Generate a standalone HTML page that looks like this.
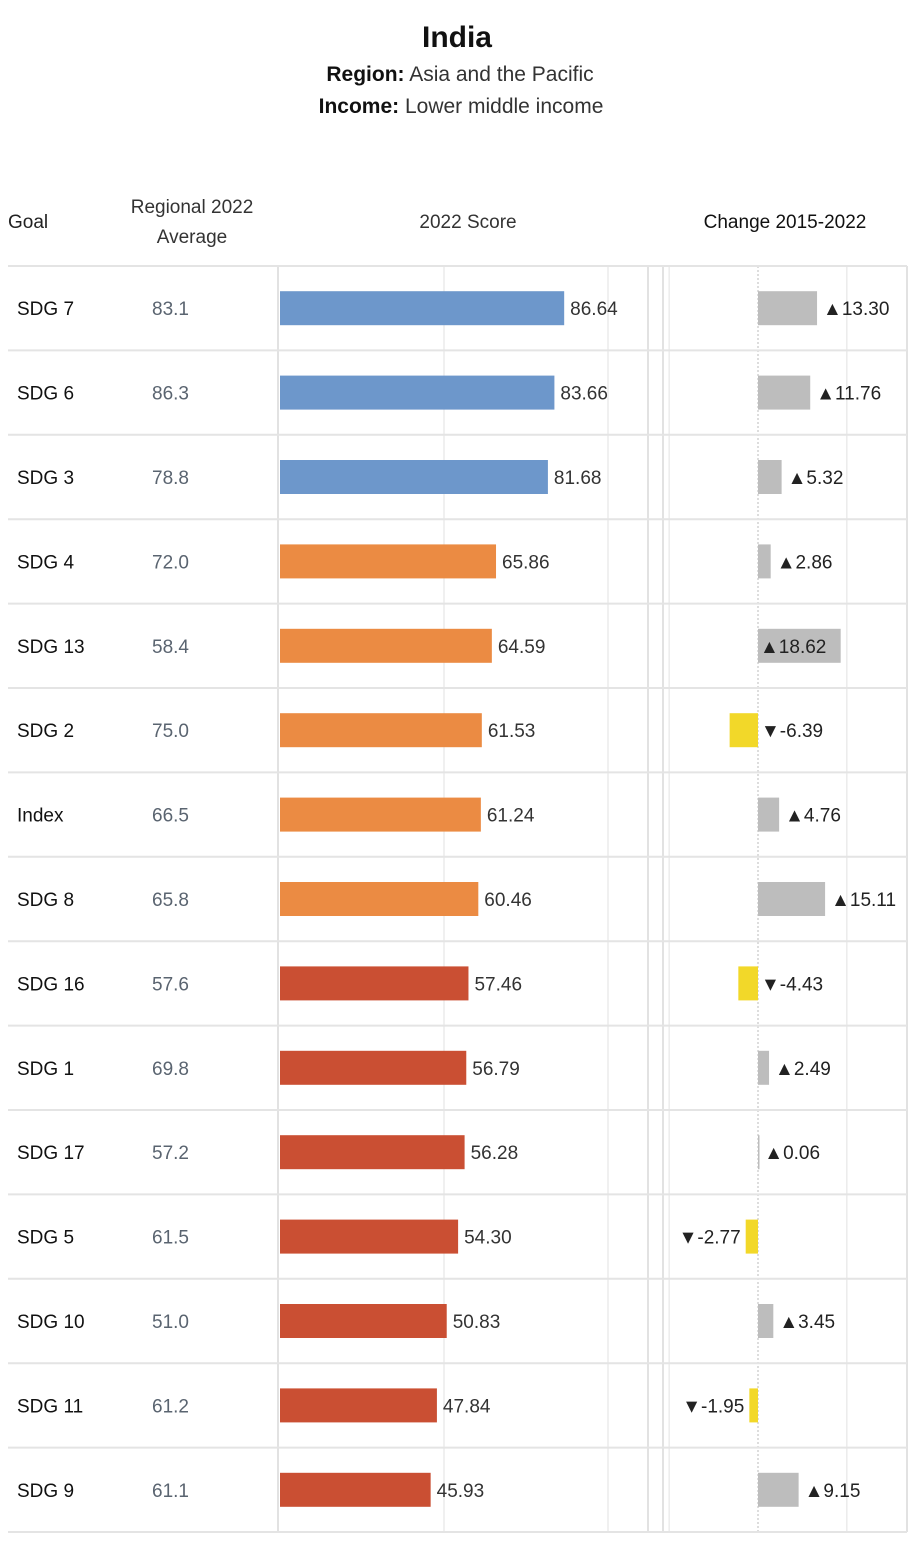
<!DOCTYPE html>
<html><head><meta charset="utf-8"><style>
body{margin:0;width:915px;height:1536px;background:#fff;font-family:"Liberation Sans",sans-serif;overflow:hidden}
svg text{font-family:"Liberation Sans",sans-serif}
</style></head><body>
<svg id="c" width="915" height="1536">
<text x="457" y="47" text-anchor="middle" font-size="30" font-weight="bold" fill="#111">India</text>
<text x="460" y="81" text-anchor="middle" font-size="21" fill="#333"><tspan font-weight="bold" fill="#111">Region:</tspan> Asia and the Pacific</text>
<text x="461" y="113" text-anchor="middle" font-size="21" fill="#333"><tspan font-weight="bold" fill="#111">Income:</tspan> Lower middle income</text>
<text x="8" y="228" font-size="19" fill="#222">Goal</text>
<text x="192" y="213" text-anchor="middle" font-size="19" fill="#333">Regional 2022</text>
<text x="192" y="243" text-anchor="middle" font-size="19" fill="#333">Average</text>
<text x="468" y="228" text-anchor="middle" font-size="19" fill="#333">2022 Score</text>
<text x="785" y="228" text-anchor="middle" font-size="19" fill="#111">Change 2015-2022</text>
<g id="g"></g>
</svg>
<script>
const goals=["SDG 7","SDG 6","SDG 3","SDG 4","SDG 13","SDG 2","Index","SDG 8","SDG 16","SDG 1","SDG 17","SDG 5","SDG 10","SDG 11","SDG 9"];
const regional=[83.1,86.3,78.8,72.0,58.4,75.0,66.5,65.8,57.6,69.8,57.2,61.5,51.0,61.2,61.1];
const scores=[86.64,83.66,81.68,65.86,64.59,61.53,61.24,60.46,57.46,56.79,56.28,54.30,50.83,47.84,45.93];
const changes=[13.30,11.76,5.32,2.86,18.62,-6.39,4.76,15.11,-4.43,2.49,0.06,-2.77,3.45,-1.95,9.15];
const scoreTicks=[0,50,100];
const changeTicks=[-20,0,20];
const NS="http://www.w3.org/2000/svg",g=document.getElementById('g');
const top0=266,rowH=84.4;
const xs=v=>280+v*3.28, xc=v=>758+v*4.44;
function el(t,a,txt){const e=document.createElementNS(NS,t);for(const k in a)e.setAttribute(k,a[k]);if(txt!=null)e.textContent=txt;g.appendChild(e);return e;}
const bot=top0+rowH*goals.length;
// panel borders
let e=el('line',{x1:278,x2:278,y1:top0,y2:bot,stroke:'#e2e2e2','stroke-width':2});

e=el('line',{x1:648,x2:648,y1:top0,y2:bot,stroke:'#e2e2e2','stroke-width':2});

e=el('line',{x1:663,x2:663,y1:top0,y2:bot,stroke:'#e2e2e2','stroke-width':2});

e=el('line',{x1:907,x2:907,y1:top0,y2:bot,stroke:'#e2e2e2','stroke-width':2});

scoreTicks.forEach(t=>{if(t===0)return;
 const l=el('line',{x1:xs(t),x2:xs(t),y1:top0,y2:bot,stroke:'#ececec','stroke-width':1.5});
 });
changeTicks.forEach(t=>{const x=xc(t);if(x<665)return;
 const l=el('line',{x1:x,x2:x,y1:top0,y2:bot,stroke:t===0?'#bbb':'#ececec','stroke-width':t===0?1:1.5,'stroke-dasharray':t===0?'2,2':'none'});
 });
for(let i=0;i<=goals.length;i++){const y=top0+i*rowH;
 const l=el('line',{x1:8,x2:907,y1:y,y2:y,stroke:'#e4e4e4','stroke-width':2});
 }
goals.forEach((gname,i)=>{
 const cy=top0+rowH*(i+0.5);
 let t=el('text',{x:17,y:cy+7,'font-size':19,fill:'#111'},gname);
 
 t=el('text',{x:152,y:cy+7,'font-size':19,fill:'#5a6470'},regional[i].toFixed(1));
 
 const s=scores[i],col=s>=80?'#6d97cb':s>=60?'#eb8b43':'#ca4f33';
 const b=el('rect',{x:280,y:cy-17,width:xs(s)-280,height:34,fill:col});
 
 t=el('text',{x:xs(s)+6,y:cy+7,'font-size':19,fill:'#333'},s.toFixed(2));
 
 const c=changes[i],x0=Math.min(xc(0),xc(c)),w=Math.max(Math.abs(xc(c)-xc(0)),1.5);
 const cb=el('rect',{x:x0,y:cy-17,width:w,height:34,fill:c>=0?'#bdbdbd':'#f2d829'});
 
 const lab=(c>=0?'▲':'▼')+c.toFixed(2);
 let lx,anchor='start';
 if(c>=0){lx=xc(c)+6;if(lx+78>910)lx=xc(0)+2;}
 else if(c<=-4){lx=xc(0)+3;}
 else{lx=xc(c)-5;anchor='end';}
 t=el('text',{x:lx,y:cy+7,'font-size':19,fill:'#222','text-anchor':anchor},lab);
 
});
</script>
</body></html>
